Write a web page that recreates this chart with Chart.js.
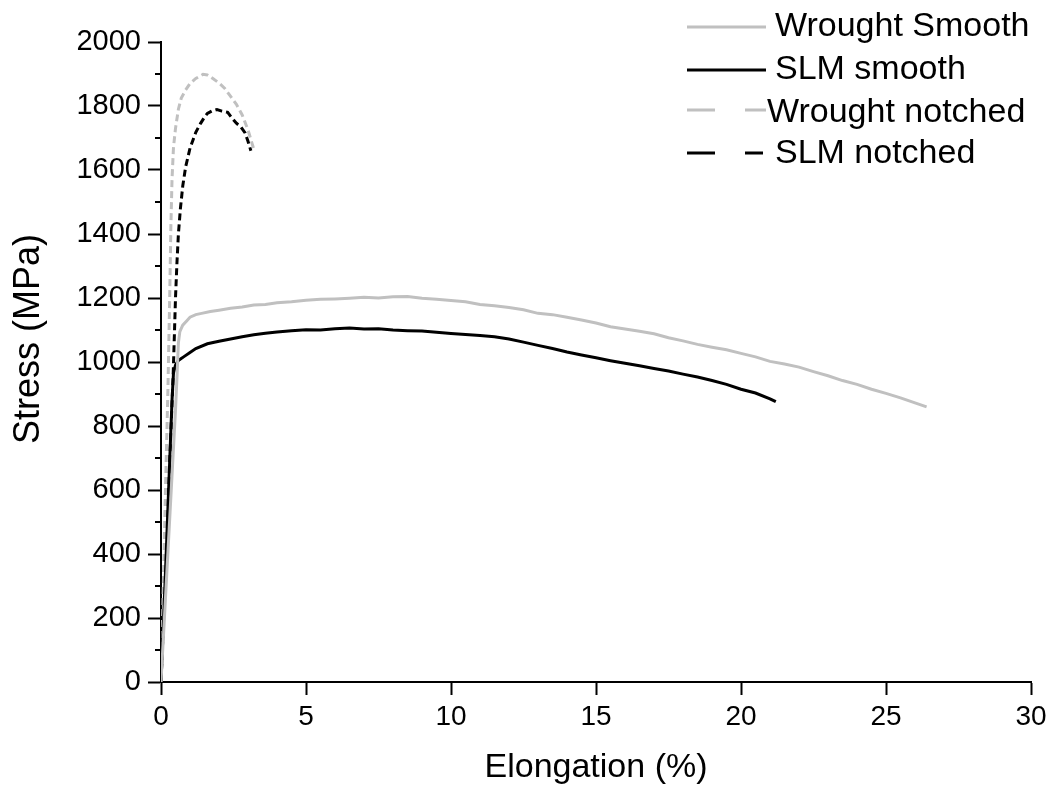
<!DOCTYPE html>
<html>
<head>
    <meta charset="utf-8">
    <title>Stress vs Elongation</title>
    <script src="https://cdn.jsdelivr.net/npm/chart.js"></script>
    <style>
        body {
            margin: 0;
            background-color: #ffffff;
        }
        canvas {
            display: block;
        }
    </style>
</head>
<body>
    <canvas id="myChart" width="1054" height="789"></canvas>
    <script>
        // Wrought smooth (grey solid)
        var wroughtSmoothX = [0, 0.1, 0.2, 0.3, 0.4, 0.5, 0.55, 0.6, 0.65, 0.75, 0.9, 1.0, 1.2, 1.4, 1.7, 2.0, 2.4, 2.8, 3.2, 3.6, 4.0, 4.5, 5.0, 5.5, 6.0, 6.5, 7.0, 7.5, 8.0, 8.5, 9.0, 9.5, 10.0, 10.5, 11.0, 11.5, 12.0, 12.5, 13.0, 13.5, 14.0, 14.5, 15.0, 15.5, 16.0, 16.5, 17.0, 17.5, 18.0, 18.5, 19.0, 19.5, 20.0, 20.5, 21.0, 21.5, 22.0, 22.5, 23.0, 23.5, 24.0, 24.5, 25.0, 25.5, 26.0, 26.4];
        var wroughtSmoothY = [0, 170, 340, 510, 680, 850, 950, 1060, 1095, 1115, 1130, 1140, 1148, 1152, 1158, 1162, 1168, 1172, 1178, 1180, 1185, 1188, 1193, 1196, 1197, 1199, 1202, 1200, 1204, 1205, 1199, 1196, 1192, 1188, 1180, 1176, 1170, 1163, 1152, 1148, 1140, 1131, 1122, 1110, 1103, 1096, 1088, 1076, 1066, 1055, 1046, 1038, 1027, 1016, 1002, 994, 984, 970, 957, 942, 930, 915, 902, 888, 872, 860];

        // SLM smooth (black solid)
        var slmSmoothX = [0, 0.1, 0.2, 0.3, 0.38, 0.43, 0.5, 0.6, 0.78, 1.0, 1.2, 1.6, 2.0, 2.4, 2.8, 3.2, 3.6, 4.0, 4.5, 5.0, 5.5, 6.0, 6.5, 7.0, 7.5, 8.0, 8.5, 9.0, 9.5, 10.0, 10.5, 11.0, 11.5, 12.0, 12.5, 13.0, 13.5, 14.0, 14.5, 15.0, 15.5, 16.0, 16.5, 17.0, 17.5, 18.0, 18.5, 19.0, 19.5, 20.0, 20.5, 21.0, 21.2];
        var slmSmoothY = [0, 220, 450, 690, 880, 965, 990, 1005, 1016, 1030, 1042, 1057, 1065, 1072, 1079, 1085, 1090, 1094, 1098, 1101, 1100, 1104, 1106, 1103, 1104, 1100, 1098, 1097, 1093, 1089, 1086, 1083, 1079, 1072, 1062, 1052, 1042, 1031, 1022, 1013, 1004, 996, 988, 980, 972, 962, 953, 942, 930, 915, 903, 885, 876];

        // Wrought notched (grey dashed)
        var wroughtNotchedX = [0, 0.08, 0.16, 0.24, 0.3, 0.34, 0.38, 0.43, 0.5, 0.6, 0.7, 0.85, 1.0, 1.2, 1.45, 1.6, 1.8, 2.0, 2.2, 2.4, 2.6, 2.8, 3.0, 3.2];
        var wroughtNotchedY = [0, 300, 620, 920, 1200, 1420, 1570, 1670, 1730, 1790, 1825, 1850, 1870, 1886, 1899, 1897, 1885, 1872, 1855, 1830, 1805, 1772, 1725, 1665];

        // SLM notched (black dashed)
        var slmNotchedX = [0, 0.1, 0.2, 0.3, 0.42, 0.46, 0.5, 0.55, 0.6, 0.67, 0.75, 0.85, 1.0, 1.2, 1.36, 1.5, 1.6, 1.75, 1.93, 2.1, 2.3, 2.45, 2.6, 2.75, 2.9, 3.0, 3.1];
        var slmNotchedY = [0, 220, 450, 690, 960, 1080, 1200, 1310, 1400, 1480, 1550, 1610, 1668, 1718, 1745, 1765, 1777, 1784, 1789, 1784, 1780, 1762, 1746, 1735, 1716, 1690, 1660];

        var seriesLabels = ['Wrought Smooth', 'SLM smooth', 'Wrought notched', 'SLM notched'];
        var yMinorTicks = [100, 300, 500, 700, 900, 1100, 1300, 1500, 1700, 1900];

        var fontFamily = "'Liberation Sans', Arial, sans-serif";

        function toPoints(xs, ys) {
            return xs.map(function (x, i) { return { x: x, y: ys[i] }; });
        }

        var greyColor = '#c0c0c0';

        // extra drawing: minor ticks, y title, legend
        var extras = {
            id: 'extras',
            afterDraw: function (chart) {
                var ctx = chart.ctx;
                var area = chart.chartArea;
                var yScale = chart.scales.y;
                ctx.save();

                ctx.strokeStyle = '#000';
                ctx.lineWidth = 2;
                yMinorTicks.forEach(function (v) {
                    var py = yScale.getPixelForValue(v);
                    ctx.beginPath();
                    ctx.moveTo(area.left - 6, py);
                    ctx.lineTo(area.left, py);
                    ctx.stroke();
                });

                // y axis title
                ctx.save();
                ctx.translate(29, 339);
                ctx.rotate(-Math.PI / 2);
                ctx.fillStyle = '#000';
                ctx.font = '36px ' + fontFamily;
                ctx.textAlign = 'center';
                ctx.textBaseline = 'middle';
                ctx.fillText('Stress (MPa)', 0, 0);
                ctx.restore();

                // legend
                var rows = [
                    { lineY: 27, textX: 775, baseY: 36, dash: [] },
                    { lineY: 70, textX: 775, baseY: 79, dash: [] },
                    { lineY: 110, textX: 767, baseY: 122, dash: [28, 30] },
                    { lineY: 153, textX: 775, baseY: 163, dash: [28, 30] }
                ];
                ctx.font = '34px ' + fontFamily;
                ctx.textAlign = 'left';
                ctx.textBaseline = 'alphabetic';
                rows.forEach(function (r, i) {
                    var ds = chart.data.datasets[i];
                    ctx.strokeStyle = ds.borderColor;
                    ctx.lineWidth = 3;
                    ctx.setLineDash(r.dash);
                    ctx.beginPath();
                    ctx.moveTo(687, r.lineY);
                    ctx.lineTo(i == 3 ? 763 : 766, r.lineY);
                    ctx.stroke();
                    ctx.setLineDash([]);
                    ctx.fillStyle = '#000';
                    ctx.fillText(seriesLabels[i], r.textX, r.baseY);
                });
                ctx.restore();
            }
        };

        var ctx = document.getElementById('myChart').getContext('2d');
        var chart = new Chart(ctx, {
            type: 'line',
            data: {
                datasets: [{
                    label: seriesLabels[0],
                    data: toPoints(wroughtSmoothX, wroughtSmoothY),
                    borderColor: greyColor,
                    borderWidth: 3
                }, {
                    label: seriesLabels[1],
                    data: toPoints(slmSmoothX, slmSmoothY),
                    borderColor: '#000000',
                    borderWidth: 3
                }, {
                    label: seriesLabels[2],
                    data: toPoints(wroughtNotchedX, wroughtNotchedY),
                    borderColor: greyColor,
                    borderWidth: 3,
                    borderDash: [7, 4]
                }, {
                    label: seriesLabels[3],
                    data: toPoints(slmNotchedX, slmNotchedY),
                    borderColor: '#000000',
                    borderWidth: 3,
                    borderDash: [7, 4]
                }]
            },
            options: {
                responsive: false,
                animation: false,
                elements: {
                    point: { radius: 0 },
                    line: { tension: 0, fill: false }
                },
                layout: {
                    padding: { top: 42, right: 23, left: 0, bottom: 0 }
                },
                plugins: {
                    legend: { display: false },
                    tooltip: { enabled: false }
                },
                scales: {
                    x: {
                        type: 'linear',
                        min: 0,
                        max: 30,
                        afterFit: function (s) { s.height = 107; },
                        border: { color: '#000', width: 2 },
                        grid: {
                            drawOnChartArea: false,
                            tickLength: 13,
                            tickColor: '#000',
                            tickWidth: 2
                        },
                        ticks: {
                            stepSize: 5,
                            color: '#000',
                            padding: 5,
                            maxRotation: 0,
                            font: { family: fontFamily, size: 28 },
                            callback: function (v) { return String(v); }
                        },
                        title: {
                            display: true,
                            text: 'Elongation (%)',
                            color: '#000',
                            padding: { top: 0, bottom: 1 },
                            font: { family: fontFamily, size: 34 }
                        }
                    },
                    y: {
                        min: 0,
                        max: 2000,
                        afterFit: function (s) { s.width = 161; },
                        border: { color: '#000', width: 2 },
                        grid: {
                            drawOnChartArea: false,
                            tickLength: 13,
                            tickColor: '#000',
                            tickWidth: 2
                        },
                        ticks: {
                            stepSize: 200,
                            color: '#000',
                            padding: 7,
                            font: { family: fontFamily, size: 29 },
                            callback: function (v) { return String(v); }
                        }
                    }
                }
            },
            plugins: [extras]
        });
    </script>
</body>
</html>
